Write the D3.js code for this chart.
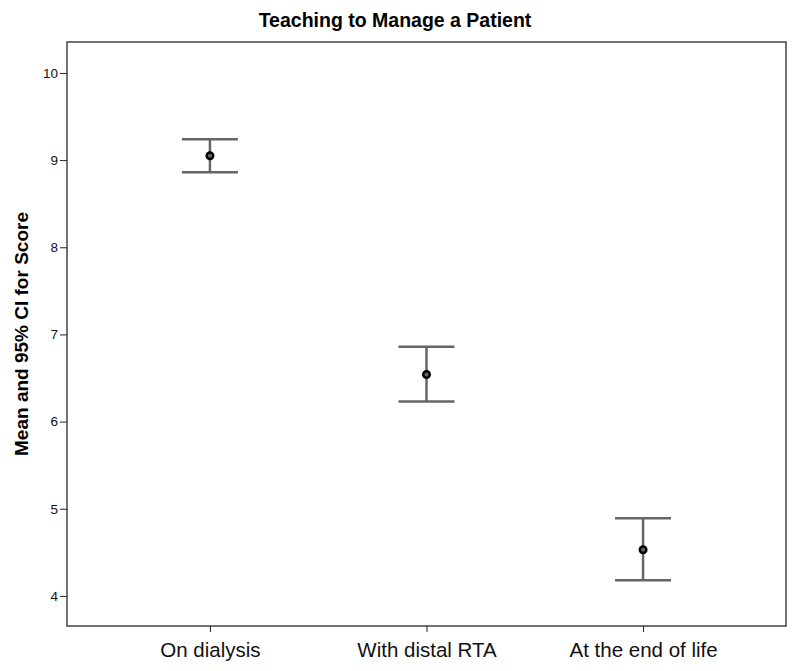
<!DOCTYPE html>
<html>
<head>
<meta charset="utf-8">
<script src="https://cdn.jsdelivr.net/npm/d3@7"></script>
<style>
  body { margin: 0; background: #fff; }
  text { font-family: "Liberation Sans", Arial, sans-serif; }
</style>
</head>
<body>
<svg id="chart"></svg>
<script>
var categories = ["On dialysis", "With distal RTA", "At the end of life"];
var means = [9.05, 6.54, 4.53];
var lower = [8.86, 6.23, 4.18];
var upper = [9.24, 6.86, 4.89];
var yTicks = [4, 5, 6, 7, 8, 9, 10];

var width = 800, height = 671;
var plotLeft = 67, plotRight = 786, plotTop = 42, plotBottom = 626;

var svg = d3.select("#chart")
  .attr("width", width)
  .attr("height", height);

var x = d3.scalePoint()
  .domain(categories)
  .range([plotLeft, plotRight])
  .padding(0.66);

var y = d3.scaleLinear()
  .domain([3.655, 10.355])
  .range([plotBottom, plotTop]);

// frame
svg.append("rect")
  .attr("x", plotLeft).attr("y", plotTop)
  .attr("width", plotRight - plotLeft).attr("height", plotBottom - plotTop)
  .attr("fill", "none")
  .attr("stroke", "#444")
  .attr("stroke-width", 1.5);

// y axis
var yAxis = svg.append("g")
  .attr("transform", "translate(" + plotLeft + ",0)")
  .call(d3.axisLeft(y).tickValues(yTicks).tickSize(7).tickPadding(2).tickFormat(d3.format("d")));
yAxis.select(".domain").remove();
yAxis.selectAll("line").attr("stroke", "#222");
yAxis.selectAll("text")
  .attr("font-size", 13.5)
  .attr("fill", "#111")
  .style("font-family", "Liberation Sans, Arial, sans-serif");

// x axis
var xAxis = svg.append("g")
  .attr("transform", "translate(0," + plotBottom + ")")
  .call(d3.axisBottom(x).tickSize(6).tickPadding(10));
xAxis.select(".domain").remove();
xAxis.selectAll("line").attr("stroke", "#222");
xAxis.selectAll("text")
  .attr("font-size", 20.5)
  .attr("fill", "#111")
  .style("font-family", "Liberation Sans, Arial, sans-serif");

// error bars
var capW = 28;
var bars = svg.selectAll(".bar")
  .data(categories)
  .enter()
  .append("g")
  .attr("class", "bar");

bars.append("line")
  .attr("x1", function(d) { return x(d); })
  .attr("x2", function(d) { return x(d); })
  .attr("y1", function(d, i) { return y(lower[i]); })
  .attr("y2", function(d, i) { return y(upper[i]); })
  .attr("stroke", "#666").attr("stroke-width", 2.5);

bars.append("line")
  .attr("x1", function(d) { return x(d) - capW; })
  .attr("x2", function(d) { return x(d) + capW; })
  .attr("y1", function(d, i) { return y(upper[i]); })
  .attr("y2", function(d, i) { return y(upper[i]); })
  .attr("stroke", "#666").attr("stroke-width", 2.5);

bars.append("line")
  .attr("x1", function(d) { return x(d) - capW; })
  .attr("x2", function(d) { return x(d) + capW; })
  .attr("y1", function(d, i) { return y(lower[i]); })
  .attr("y2", function(d, i) { return y(lower[i]); })
  .attr("stroke", "#666").attr("stroke-width", 2.5);

bars.append("circle")
  .attr("cx", function(d) { return x(d); })
  .attr("cy", function(d, i) { return y(means[i]); })
  .attr("r", 3.3)
  .attr("fill", "#666")
  .attr("stroke", "#000")
  .attr("stroke-width", 2.4);

// title
svg.append("text")
  .attr("x", 395).attr("y", 27)
  .attr("text-anchor", "middle")
  .attr("font-size", 19.5)
  .attr("font-weight", "bold")
  .text("Teaching to Manage a Patient");

// y label
svg.append("text")
  .attr("transform", "translate(28," + ((plotTop + plotBottom) / 2) + ") rotate(-90)")
  .attr("text-anchor", "middle")
  .attr("font-size", 19)
  .attr("font-weight", "bold")
  .text("Mean and 95% CI for Score");
</script>
</body>
</html>
